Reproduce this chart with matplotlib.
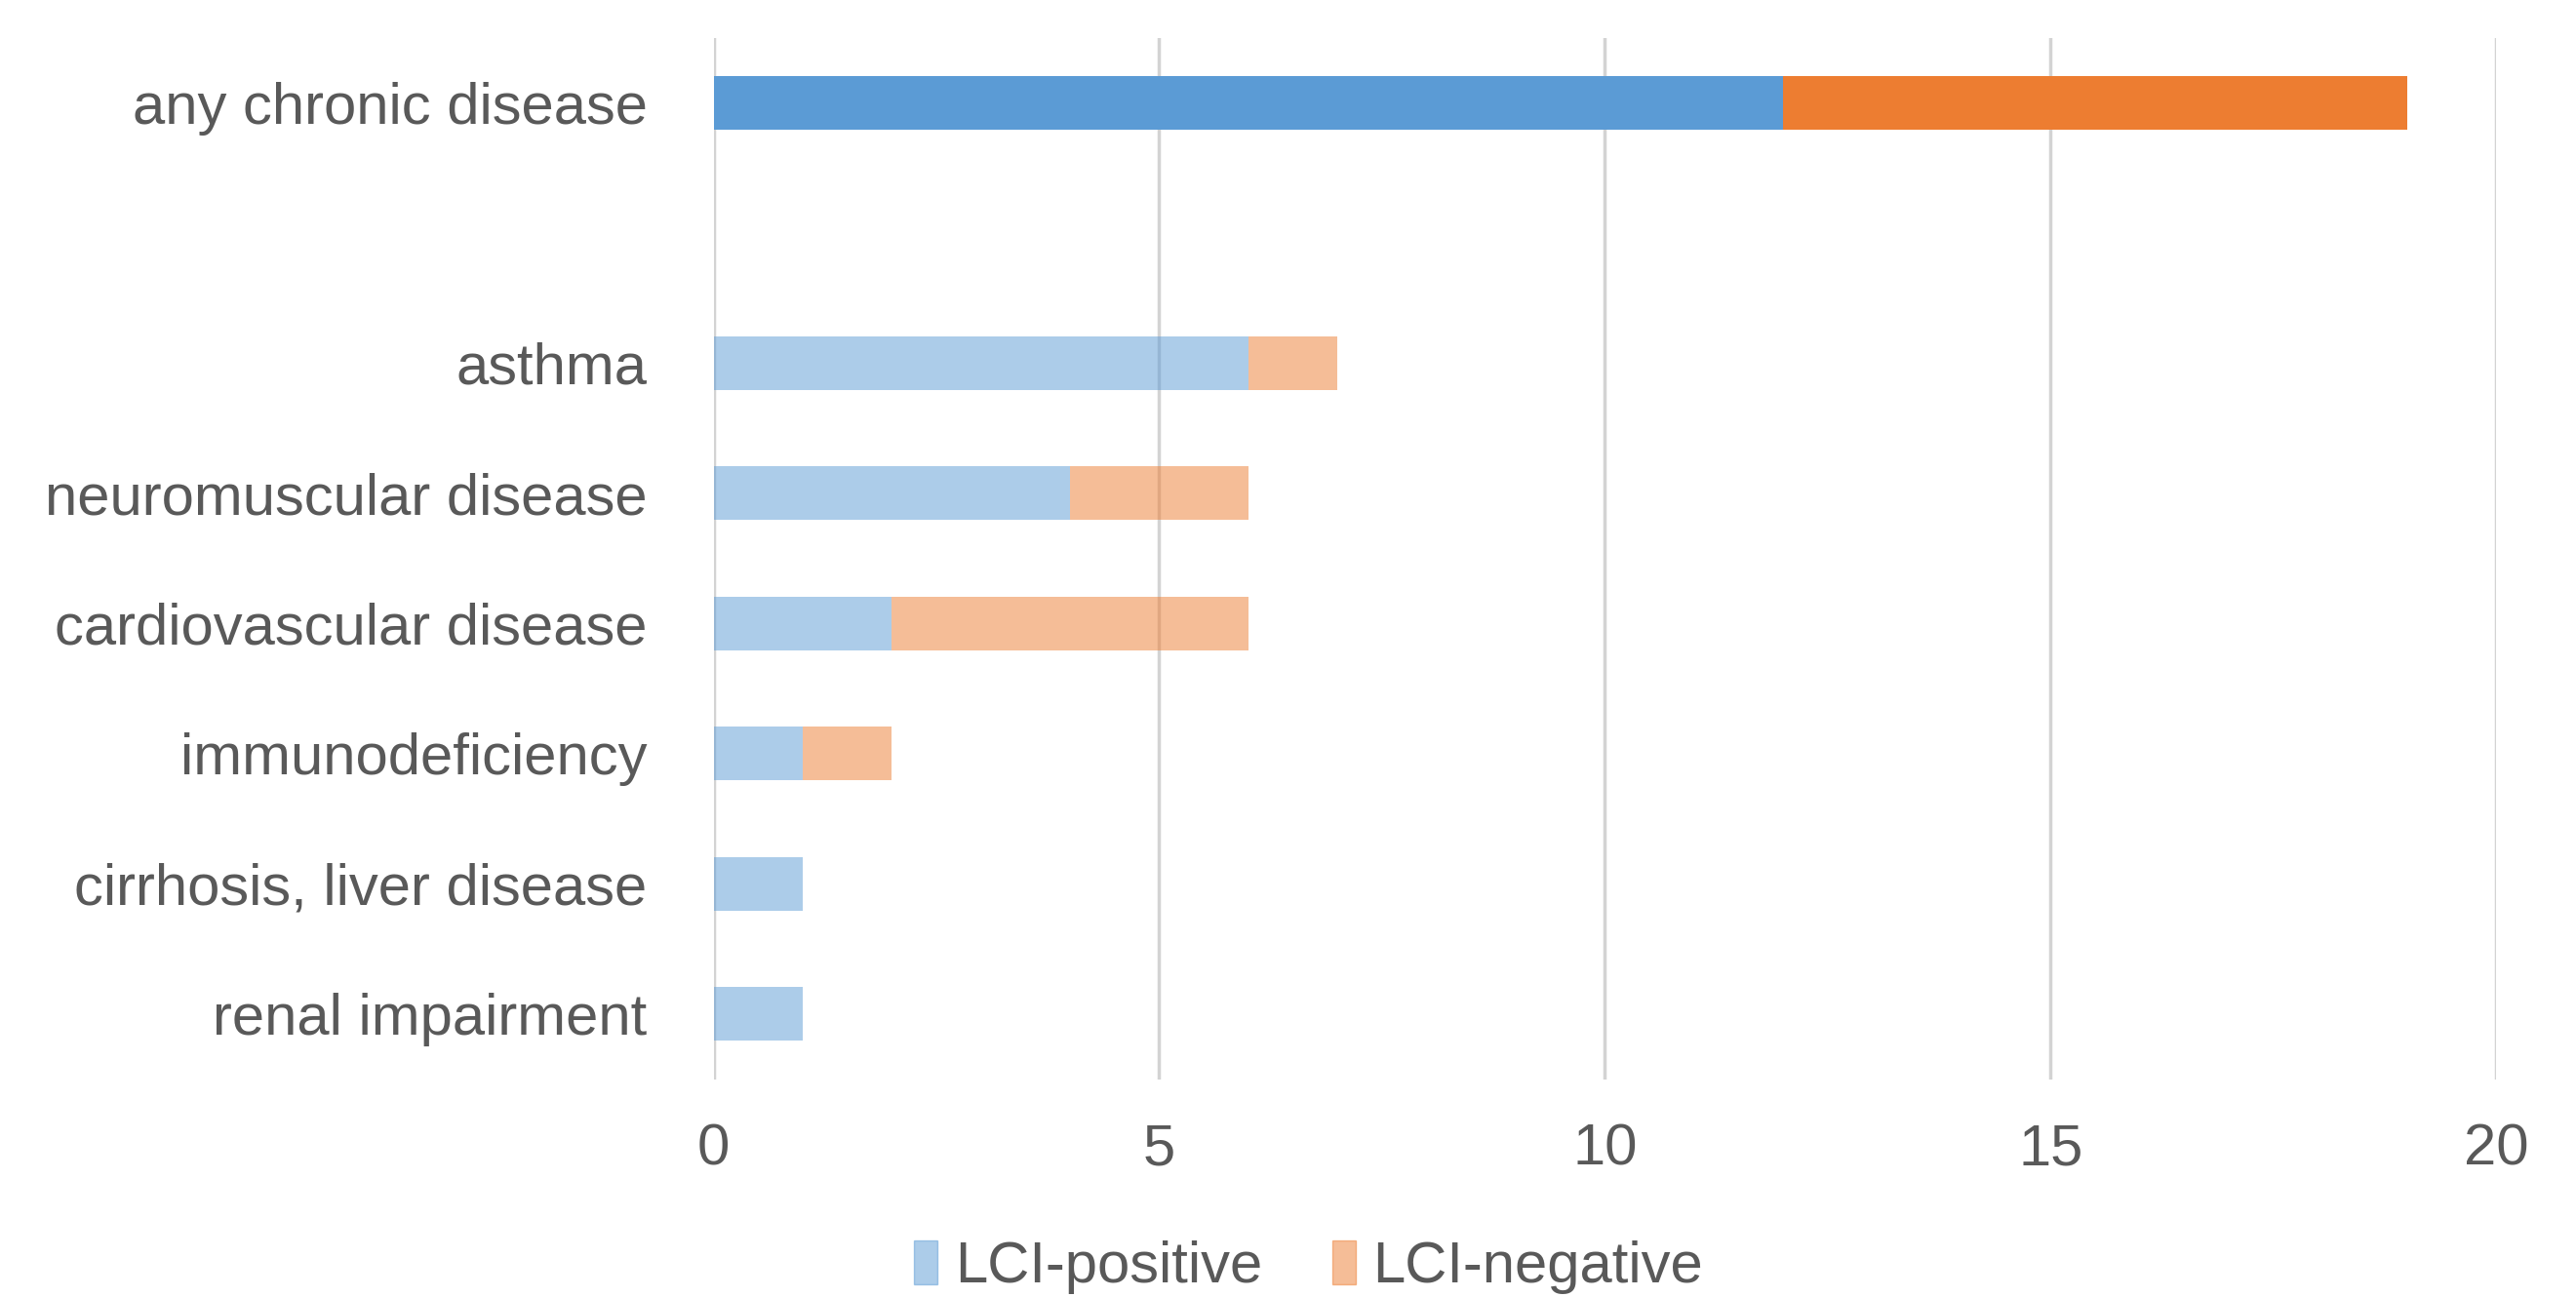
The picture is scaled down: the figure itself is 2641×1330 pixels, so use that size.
import matplotlib
matplotlib.use("Agg")
import matplotlib.pyplot as plt
import numpy as np

plt.rcParams['font.family'] = ['Liberation Sans', 'DejaVu Sans']

# categories top to bottom, "" is the blank gap row
categories = ["any chronic disease", "", "asthma", "neuromuscular disease",
              "cardiovascular disease", "immunodeficiency",
              "cirrhosis, liver disease", "renal impairment"]
lci_pos = [12, 0, 6, 4, 2, 1, 1, 1]
lci_neg = [7, 0, 1, 2, 4, 1, 0, 0]
x_ticks = [0, 5, 10, 15, 20]

blue = "#5B9BD5"
orange = "#ED7D31"

fig = plt.figure(figsize=(26.41, 13.30), dpi=100)
ax = fig.add_axes([0.277, 0.168, 0.692, 0.803])

y = np.arange(len(categories))
pos = np.array(lci_pos)
neg = np.array(lci_neg)

# first row solid, the rest faded
for i in range(len(categories)):
    a = 1.0 if i == 0 else 0.5
    ax.barh(y[i], pos[i], height=0.41, color=blue, alpha=a, zorder=3)
    ax.barh(y[i], neg[i], left=pos[i], height=0.41, color=orange, alpha=a, zorder=3)

ax.set_ylim(len(categories) - 0.5, -0.5)
ax.set_xlim(0, 20)
ax.set_xticks(x_ticks)
ax.set_yticks(y)
ax.set_yticklabels(categories)
ax.tick_params(axis='both', length=0, labelsize=43, labelcolor="#595959")
ax.tick_params(axis='x', pad=32)
ax.tick_params(axis='y', pad=49)
ax.xaxis.grid(True, color="#D3D3D3", linewidth=2.5, zorder=0)
for s in ax.spines.values():
    s.set_visible(False)

handles = [plt.Rectangle((0, 0), 1, 1, color=blue, alpha=0.5),
           plt.Rectangle((0, 0), 1, 1, color=orange, alpha=0.5)]
fig.legend(handles, ["LCI-positive", "LCI-negative"], loc="center",
           bbox_to_anchor=(0.508, 0.023), ncol=2, frameon=False, fontsize=43,
           labelcolor="#595959", handlelength=0.4, handleheight=0.8,
           handletextpad=0.3, columnspacing=1.2)

fig.savefig("out.png", dpi=100)
